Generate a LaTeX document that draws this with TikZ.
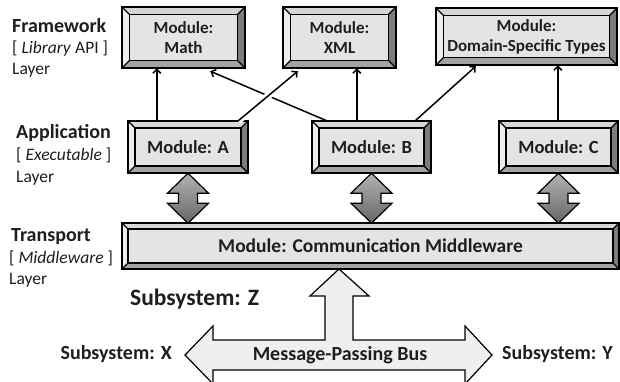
\documentclass[tikz,border=0pt]{standalone}
\usepackage{fontspec}
\setmainfont{Carlito}
\usetikzlibrary{calc,arrows.meta}
\definecolor{facec}{HTML}{E4E4E4}
\definecolor{bvlight}{HTML}{EDEDED}
\definecolor{bvtopc}{HTML}{D6D6D6}
\definecolor{bvbot}{HTML}{A3A3A3}
\definecolor{bvright}{HTML}{7C7C7C}
\definecolor{busfill}{HTML}{EFEFEF}
\definecolor{txt}{HTML}{1E1E1E}
\newcommand\bevelbox[8]{%
 \fill[bvtopc] (#2,#3) -- (#4,#3) -- ({#4-#6},{#3+#6}) -- ({#2+#6},{#3+#6}) -- cycle;
 \fill[bvlight] (#2,#3) -- ({#2+#6},{#3+#6}) -- ({#2+#6},{#5-#6}) -- (#2,#5) -- cycle;
 \fill[bvbot] (#2,#5) -- ({#2+#6},{#5-#6}) -- ({#4-#6},{#5-#6}) -- (#4,#5) -- cycle;
 \fill[bvright] (#4,#3) -- (#4,#5) -- ({#4-#6},{#5-#6}) -- ({#4-#6},{#3+#6}) -- cycle;
 \filldraw[fill=facec, line width=1.1pt] ({#2+#6},{#3+#6}) rectangle ({#4-#6},{#5-#6});
 \draw[line width=1.1pt] (#2,#3) -- ({#2+#6},{#3+#6}) (#4,#3) -- ({#4-#6},{#3+#6})
   (#2,#5) -- ({#2+#6},{#5-#6}) (#4,#5) -- ({#4-#6},{#5-#6});
 \draw[line width=1.7pt] (#2,#3) rectangle (#4,#5);
 \pgfmathsetmacro\bw{#4-#2}\pgfmathsetmacro\bh{#5-#3}
 \node[inner sep=0, minimum width=\bw pt, minimum height=\bh pt, align=center,
   text=txt, font=#7] (#1) at ({(#2+#4)/2},{(#3+#5)/2}) {#8};
}
\tikzset{
  conn/.style={line width=1.5pt, -{Straight Barb[length=4pt,width=8pt,line width=1.5pt]}},
  dbl/.style={draw=black, line width=1.2pt, line join=miter, top color=black!30, bottom color=black!60},
  head/.style={anchor=base west, font=\fontsize{20}{22}\selectfont\bfseries, text=txt, inner sep=0},
  sub/.style={anchor=base west, font=\fontsize{17.5}{20}\selectfont, text=txt, inner sep=0},
  subsys/.style={font=\fontsize{20}{22}\selectfont\bfseries, text=txt, inner sep=0},
}
\newcommand\topfont{\fontsize{17}{20}\selectfont\bfseries}
\newcommand\modfont{\fontsize{18.5}{20}\selectfont\bfseries}
\newcommand\mwfont{\fontsize{19.5}{20}\selectfont\bfseries}
\begin{document}
\begin{tikzpicture}[x=1pt,y=-1pt]
\useasboundingbox (0,0) rectangle (620,381);
\clip (0,0) rectangle (620,381);
% top layer
\bevelbox{math}{122}{7}{245}{68}{7.5}{\topfont}{Module:\\Math}
\bevelbox{xml}{283}{7}{396}{68}{7.5}{\topfont}{Module:\\XML}
\bevelbox{dst}{436}{8}{617}{65}{7.5}{\topfont}{Module:\\Domain-Specific Types}
% application layer
\bevelbox{A}{128}{121}{248}{173}{7}{\modfont}{Module: A}
\bevelbox{B}{312}{121}{431}{173}{7}{\modfont}{Module: B}
\bevelbox{C}{499}{121}{618}{173}{7}{\modfont}{Module: C}
% transport
\bevelbox{mw}{122}{223}{619}{269}{6}{\mwfont}{Module: Communication Middleware}

% connectors
\draw[conn] ($(A.north west)+(29,0)$) -- ($(math.south west)+(35,0)$);
\draw[conn] ($(B.north west)+(15,0)$) -- ($(math.south east)+(-35,3)$);
\draw[conn, preaction={draw=white, line width=7pt, -}] ($(A.north east)+(-10,0)$) -- ($(xml.south west)+(15,3)$);
\draw[conn] ($(B.north west)+(45,0)$) -- ($(xml.south west)+(74,0)$);
\draw[conn] ($(B.north east)+(-16,0)$) -- ($(dst.south west)+(40,1)$);
\draw[conn] ($(C.north west)+(59,0)$) -- ($(dst.south west)+(122,0)$);

% double arrows
\foreach \m in {A,B,C}{
  \path[dbl] (\m.south) -- ++(20.5,20) -- ++(-11,0) -- ++(0,10) -- ++(11,0) -- ++(-20.5,20)
    -- ++(-20.5,-20) -- ++(11,0) -- ++(0,-10) -- ++(-11,0) -- cycle;
}

% bus arrow
\filldraw[fill=busfill, line width=1.2pt, line join=miter]
  (339,269) -- (369,296) -- (353,296) -- (353,340) -- (465,340) -- (465,326) -- (492,355)
  -- (465,384) -- (465,370) -- (213,370) -- (213,384) -- (185,355) -- (213,326) -- (213,340)
  -- (325,340) -- (325,296) -- (310,296) -- cycle;
\node[subsys, anchor=base] (bus) at (340,360) {Message-Passing Bus};

% layer labels
\node[head] (fw) at (12,32) {Framework};
\node[sub] (fwa) at (12,53) {[ \textit{Library} API ]};
\node[sub] (fwb) at (12,74) {Layer};
\node[head] (ap) at (16,138) {Application};
\node[sub] (apa) at (16,160) {[ \textit{Executable} ]};
\node[sub] (apb) at (16,182) {Layer};
\node[head] (tr) at (11,241) {Transport};
\node[sub] (tra) at (9,263) {[ \textit{Middleware} ]};
\node[sub] (trb) at (9,284) {Layer};

% subsystems
\node[subsys, anchor=base west, font=\fontsize{23.5}{26}\selectfont\bfseries] (subz) at (130,305) {Subsystem: Z};
\node[subsys, anchor=base east] (subx) at (172,359) {Subsystem: X};
\node[subsys, anchor=base west] (suby) at (502,359) {Subsystem: Y};
\end{tikzpicture}
\end{document}
